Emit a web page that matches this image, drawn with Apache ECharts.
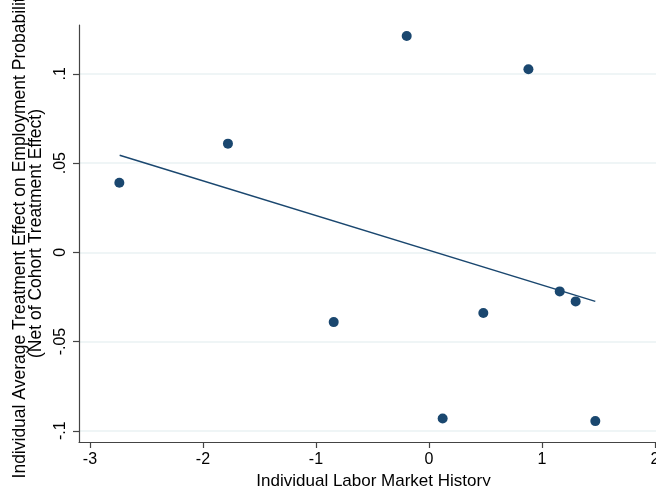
<!DOCTYPE html>
<html>
<head>
<meta charset="utf-8">
<script src="https://cdn.jsdelivr.net/npm/echarts@6/dist/echarts.min.js"></script>
<style>
  html, body { margin: 0; padding: 0; background: #ffffff; }
  #chart { width: 656px; height: 486px; }
</style>
</head>
<body>
<div id="chart"></div>
<script>
// Individual labor market history vs. individual average treatment effect
const historyX = [-2.740, -1.779, -0.197, 0.880, -0.843, 0.481, 1.157, 1.298, 0.121, 1.472];
const effectY  = [0.0390, 0.0609, 0.1212, 0.1026, -0.0391, -0.0340, -0.0219, -0.0275, -0.0931, -0.0946];

// Fitted line endpoints
const fitX = [-2.737, 1.472];
const fitY = [0.0544, -0.0275];

// Tick values and their labels
const xTickValues = [-3, -2, -1, 0, 1, 2];
const xTickLabels = ['-3', '-2', '-1', '0', '1', '2'];
const yTickValues = [-0.1, -0.05, 0, 0.05, 0.1];
const yTickLabels = ['-.1', '-.05', '0', '.05', '.1'];

const navy = '#1a476f';
const font = 'Liberation Sans, Arial, sans-serif';

function labelFor(values, labels) {
  return function (v) {
    for (let i = 0; i < values.length; i++) {
      if (Math.abs(values[i] - v) < 1e-9) return labels[i];
    }
    return '';
  };
}

const chart = echarts.init(document.getElementById('chart'), null, { renderer: 'canvas' });

chart.setOption({
  backgroundColor: '#ffffff',
  animation: false,
  grid: { left: 79, top: 25, right: 0, bottom: 44, containLabel: false, outerBoundsMode: 'none' },
  xAxis: {
    type: 'value',
    min: -3.097,
    max: 2.009,
    name: 'Individual Labor Market History',
    nameLocation: 'middle',
    nameGap: 29,
    nameTextStyle: { color: '#000', fontFamily: font, fontSize: 17, padding: [0, 0, 0, 12] },
    axisLine: { show: true, onZero: false, lineStyle: { color: '#444', width: 1.2 } },
    axisTick: { show: true, length: 6, customValues: xTickValues, lineStyle: { color: '#444', width: 1.2 } },
    axisLabel: {
      customValues: xTickValues,
      formatter: labelFor(xTickValues, xTickLabels),
      color: '#000', fontFamily: font, fontSize: 16, margin: 10,
      showMinLabel: true, showMaxLabel: true, hideOverlap: false
    },
    splitLine: { show: false }
  },
  yAxis: {
    type: 'value',
    min: -0.1063,
    max: 0.1274,
    name: 'Individual Average Treatment Effect on Employment Probability\n(Net of Cohort Treatment Effect)',
    nameLocation: 'middle',
    nameRotate: 90,
    nameGap: 34,
    nameTextStyle: { color: '#000', fontFamily: font, fontSize: 17.5, lineHeight: 16, align: 'center' },
    axisLine: { show: true, onZero: false, lineStyle: { color: '#444', width: 1.2 } },
    axisTick: { show: true, length: 6, customValues: yTickValues, lineStyle: { color: '#444', width: 1.2 } },
    axisLabel: {
      customValues: yTickValues,
      formatter: labelFor(yTickValues, yTickLabels),
      rotate: 90,
      color: '#000', fontFamily: font, fontSize: 16, margin: 10,
      showMinLabel: true, showMaxLabel: true, hideOverlap: false
    },
    splitLine: { show: true, lineStyle: { color: '#eaf2f3', width: 1.5 } }
  },
  series: [
    {
      type: 'scatter',
      data: historyX.map((x, i) => [x, effectY[i]]),
      symbol: 'circle',
      symbolSize: 10,
      itemStyle: { color: navy, opacity: 1 },
      z: 3
    },
    {
      type: 'line',
      data: fitX.map((x, i) => [x, fitY[i]]),
      showSymbol: false,
      symbol: 'none',
      lineStyle: { color: navy, width: 1.5 },
      z: 2
    }
  ]
});
</script>
</body>
</html>
